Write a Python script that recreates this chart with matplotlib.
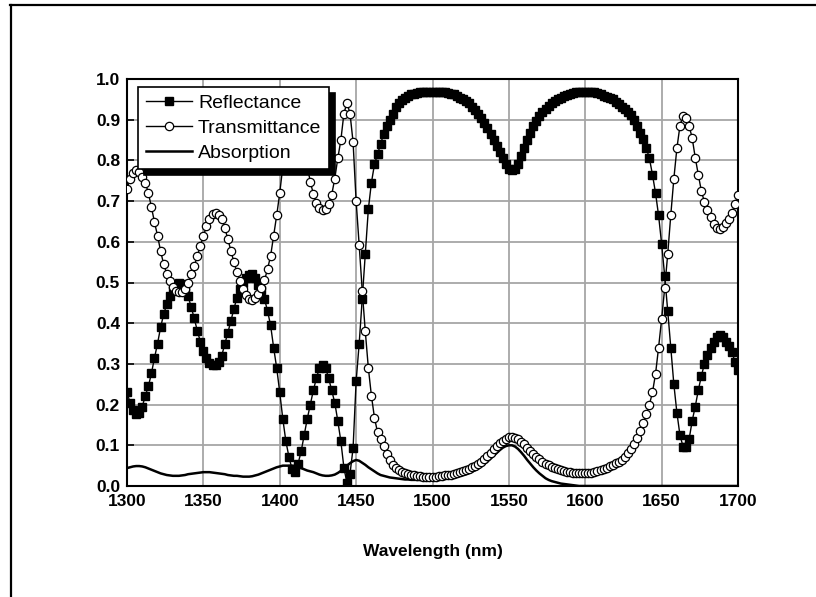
import numpy as np
import matplotlib
matplotlib.use("Agg")
import matplotlib.pyplot as plt
from matplotlib.lines import Line2D

plt.rcParams['font.family'] = ['Liberation Sans', 'DejaVu Sans']

# Wavelength grid (nm), one sample every 2 nm
wavelength = np.arange(1300, 1702, 2)

# Values, 1300 .. 1700 nm
reflectance = [
    0.23, 0.205, 0.187, 0.178, 0.18, 0.195, 0.222, 0.245, 0.277, 0.315,
    0.35, 0.39, 0.422, 0.446, 0.466, 0.482, 0.493, 0.498, 0.497, 0.485,
    0.466, 0.44, 0.412, 0.382, 0.355, 0.332, 0.315, 0.303, 0.297, 0.297,
    0.305, 0.32, 0.348, 0.375, 0.405, 0.436, 0.462, 0.483, 0.50, 0.512,
    0.518, 0.52, 0.512, 0.495, 0.482, 0.46, 0.43, 0.395, 0.34, 0.29,
    0.23, 0.165, 0.11, 0.072, 0.042, 0.035, 0.055, 0.085, 0.125, 0.165,
    0.20, 0.235, 0.265, 0.29, 0.298, 0.29, 0.265, 0.235, 0.205, 0.16,
    0.11, 0.045, 0.007, 0.03, 0.093, 0.257, 0.35, 0.46, 0.57, 0.68,
    0.745, 0.79, 0.815, 0.84, 0.865, 0.885, 0.90, 0.915, 0.93, 0.94,
    0.948, 0.954, 0.958, 0.962, 0.964, 0.966, 0.967, 0.968, 0.968, 0.969,
    0.969, 0.969, 0.968, 0.968, 0.967, 0.966, 0.964, 0.962, 0.958, 0.954,
    0.95, 0.945, 0.94, 0.932, 0.924, 0.915, 0.905, 0.893, 0.88, 0.865,
    0.85, 0.835, 0.82, 0.805, 0.79, 0.78, 0.776, 0.78, 0.79, 0.81,
    0.83, 0.85, 0.868, 0.884, 0.897, 0.908, 0.918, 0.927, 0.934, 0.94,
    0.946, 0.95, 0.954, 0.958, 0.961, 0.963, 0.965, 0.967, 0.968, 0.969,
    0.969, 0.969, 0.968, 0.967, 0.965, 0.962, 0.959, 0.956, 0.953, 0.95,
    0.943, 0.938, 0.932, 0.926, 0.92, 0.912, 0.90, 0.885, 0.868, 0.852,
    0.83, 0.805, 0.765, 0.72, 0.665, 0.595, 0.516, 0.43, 0.34, 0.25,
    0.18, 0.125, 0.097, 0.095, 0.115, 0.16, 0.195, 0.235, 0.27, 0.30,
    0.322, 0.34, 0.355, 0.365, 0.37, 0.365, 0.355, 0.345, 0.33, 0.305,
    0.285,
]

transmittance = [
    0.73, 0.755, 0.77, 0.776, 0.772, 0.76, 0.745, 0.72, 0.685, 0.648,
    0.615, 0.577, 0.545, 0.522, 0.503, 0.488, 0.48, 0.476, 0.477, 0.485,
    0.5, 0.52, 0.54, 0.565, 0.59, 0.614, 0.638, 0.657, 0.668, 0.671,
    0.667, 0.655, 0.635, 0.607, 0.578, 0.55, 0.525, 0.503, 0.485, 0.47,
    0.46, 0.458, 0.462, 0.472, 0.487, 0.505, 0.533, 0.565, 0.615, 0.665,
    0.72, 0.785, 0.84, 0.88, 0.905, 0.917, 0.905, 0.87, 0.83, 0.785,
    0.748, 0.717, 0.695, 0.684, 0.677, 0.68, 0.692, 0.715, 0.755, 0.805,
    0.85, 0.915, 0.942, 0.915, 0.845, 0.70, 0.592, 0.48, 0.38, 0.29,
    0.222, 0.168, 0.132, 0.115, 0.098, 0.078, 0.063, 0.052, 0.044, 0.039,
    0.035, 0.032, 0.03, 0.028, 0.026, 0.025, 0.024, 0.023, 0.023, 0.023,
    0.023, 0.023, 0.024, 0.025, 0.026, 0.027, 0.028, 0.03, 0.032, 0.034,
    0.036, 0.039, 0.042, 0.046, 0.05, 0.055, 0.06, 0.067, 0.074, 0.082,
    0.09, 0.098, 0.105, 0.111, 0.116, 0.12, 0.121, 0.119, 0.115, 0.109,
    0.102, 0.094, 0.086, 0.079, 0.072, 0.066, 0.06, 0.055, 0.051, 0.047,
    0.044, 0.041, 0.039, 0.037, 0.035, 0.034, 0.033, 0.032, 0.031, 0.031,
    0.031, 0.032, 0.033, 0.035, 0.037, 0.04, 0.042, 0.045, 0.048, 0.052,
    0.056, 0.06, 0.065, 0.072, 0.08, 0.09, 0.103, 0.118, 0.135, 0.154,
    0.178, 0.2, 0.23, 0.275, 0.34, 0.41, 0.486, 0.57, 0.666, 0.755,
    0.83, 0.885, 0.91, 0.905, 0.885, 0.855, 0.807, 0.765, 0.725, 0.698,
    0.677, 0.66, 0.643, 0.633, 0.631, 0.637, 0.645, 0.655, 0.67, 0.692,
    0.715,
]

absorption = [
    0.044, 0.046, 0.048, 0.049, 0.049, 0.048, 0.046, 0.043, 0.04, 0.037,
    0.034, 0.031, 0.029, 0.027, 0.026, 0.025, 0.025, 0.025, 0.026, 0.027,
    0.029, 0.03, 0.031, 0.032, 0.033, 0.034, 0.034, 0.034, 0.033, 0.032,
    0.031, 0.03, 0.029, 0.027, 0.026, 0.025, 0.025, 0.024, 0.023, 0.023,
    0.023, 0.024, 0.026, 0.028, 0.031, 0.034, 0.037, 0.04, 0.043, 0.046,
    0.048, 0.05, 0.05, 0.05, 0.05, 0.049, 0.047, 0.044, 0.041, 0.038,
    0.036, 0.034, 0.031, 0.028, 0.026, 0.025, 0.025, 0.026, 0.028, 0.032,
    0.037, 0.043, 0.05, 0.056, 0.061, 0.064, 0.062, 0.057, 0.052, 0.046,
    0.041, 0.036, 0.031, 0.027, 0.025, 0.023, 0.021, 0.02, 0.019, 0.018,
    0.017, 0.016, 0.016, 0.015, 0.015, 0.015, 0.015, 0.015, 0.015, 0.015,
    0.015, 0.016, 0.016, 0.017, 0.018, 0.019, 0.02, 0.021, 0.023, 0.025,
    0.027, 0.029, 0.032, 0.035, 0.039, 0.043, 0.048, 0.054, 0.06, 0.067,
    0.074, 0.081, 0.088, 0.094, 0.098, 0.1, 0.1, 0.097, 0.091, 0.083,
    0.074, 0.064, 0.055, 0.046, 0.038, 0.031, 0.025, 0.019, 0.015, 0.012,
    0.01, 0.008, 0.006, 0.005, 0.004, 0.003, 0.002, 0.001, 0.0, 0.0,
    0.0, 0.0, 0.0, 0.0, 0.0, 0.0, 0.0, 0.0, 0.0, 0.0,
    0.0, 0.0, 0.0, 0.0, 0.0, 0.0, 0.0, 0.0, 0.0, 0.0,
    0.0, 0.0, 0.0, 0.0, 0.0, 0.0, 0.0, 0.0, 0.0, 0.0,
    0.0, 0.0, 0.0, 0.0, 0.0, 0.0, 0.0, 0.0, 0.0, 0.0,
    0.0, 0.0, 0.0, 0.0, 0.0, 0.0, 0.0, 0.0, 0.0, 0.0,
    0.0,
]

fig = plt.figure(figsize=(8.16, 5.97), dpi=100)
ax = fig.add_axes([127/816, 111/597, 611/816, 407/597])

# draw order: absorption under the markers, circles on top
h_a, = ax.plot(wavelength, absorption, color='black', lw=1.8, zorder=2,
               label='Absorption')
h_r, = ax.plot(wavelength, reflectance, color='black', lw=1.0, marker='s',
               ms=5.2, mfc='black', mec='black', zorder=3, label='Reflectance')
h_t, = ax.plot(wavelength, transmittance, color='black', lw=1.0, marker='o',
               ms=6, mfc='white', mec='black', mew=0.9, zorder=4,
               label='Transmittance')

ax.set_xlim(1300, 1700)
ax.set_ylim(0, 1.0)
ax.set_xticks(np.arange(1300, 1701, 50))
ax.set_yticks(np.arange(0, 1.01, 0.1))
ax.set_yticklabels([f"{v:.1f}" for v in np.arange(0, 1.01, 0.1)])
ax.set_axisbelow(True)
ax.grid(color='#a6a6a6', lw=1.3)

ax.tick_params(axis='y', direction='in', length=5, width=1.2, pad=5,
               labelsize=12.5)
ax.tick_params(axis='x', length=0, pad=6, labelsize=12.5)
for lab in ax.get_xticklabels() + ax.get_yticklabels():
    lab.set_fontweight('bold')
for sp in ax.spines.values():
    sp.set_linewidth(1.5)

ax.set_xlabel('Wavelength (nm)', fontsize=12.5, fontweight='bold',
              labelpad=25)

leg = ax.legend(handles=[h_r, h_t, h_a], loc='upper left',
                bbox_to_anchor=(11/611, 1 - 8/407), borderaxespad=0,
                fancybox=False, edgecolor='black', framealpha=1,
                prop={'size': 14}, handlelength=2.4, handletextpad=0.3,
                labelspacing=0.37, borderpad=0.39,
                shadow={'ox': 4, 'oy': -4, 'facecolor': 'black',
                        'edgecolor': 'black', 'alpha': 1})
leg.get_frame().set_linewidth(1.2)
leg.set_zorder(10)

# outer frame lines (top and left only)
fig.add_artist(Line2D([10/816, 1], [1 - 4.5/597, 1 - 4.5/597],
                      transform=fig.transFigure, color='black', lw=1.6))
fig.add_artist(Line2D([11/816, 11/816], [0, 1 - 4.5/597],
                      transform=fig.transFigure, color='black', lw=1.6))

fig.savefig("out.png", dpi=100)
